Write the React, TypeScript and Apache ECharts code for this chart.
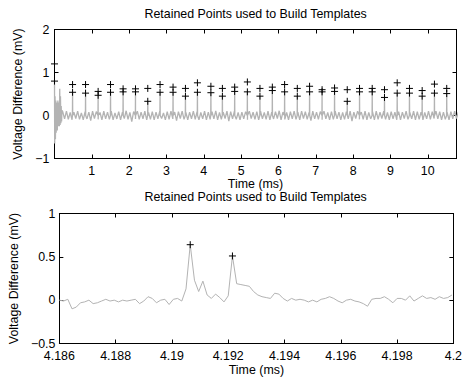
import React, { useEffect, useRef } from "react";
import * as echarts from "echarts";

const titleText = "Retained Points used to Build Templates";
const xName = "Time (ms)";
const yName = "Voltage Difference (mV)";

// ---------- top panel ----------
const topXMax = 10.77;
const topYMin = -1;
const topYMax = 2;

// initial artefact burst (ms, mV)
const burstTimes = [0, 0.005, 0.015, 0.025, 0.035, 0.045, 0.06, 0.075, 0.09, 0.1, 0.115, 0.13, 0.14, 0.15, 0.16, 0.17, 0.18, 0.19, 0.2];
const burstValues = [0.78, -0.65, 0.45, -0.55, 0.35, -0.4, 0.3, -0.35, 0.35, -0.25, 0.3, -0.25, 0.62, -0.22, 0.45, -0.18, 0.22, -0.14, 0.12];

// baseline noise, sampled from 0.22 ms every 0.05 ms (hundredths of mV)
const noiseStart = 0.22;
const noiseStep = 0.05;
const noiseCentiMv = [
  9, -8, 10, -9, 7, -10, 8, -7, 10, -9, 6, -10, 9, -8, 8, -12, 10, -7, 9, -9,
  7, -10, 10, -8, 8, -9, 10, -10, 6, -8, 9, -10, 8, -7, 11, -9, 7, -14, 9, -8,
  10, -9, 8, -8, 10, -10, 7, -9, 9, -10, 8, -8, 10, -7, 6, -10, 9, -9, 10, -8,
  8, -12, 9, -7, 10, -9, 7, -10, 8, -8, 10, -9, 9, -10, 7, -8, 10, -10, 8, -9,
  9, -8, 11, -10, 7, -9, 8, -7, 10, -13, 9, -8, 10, -9, 7, -10, 8, -8, 9, -10,
  10, -7, 8, -9, 9, -10, 10, -8, 7, -9, 10, -10, 8, -8, 9, -7, 11, -10, 8, -9,
  7, -10, 9, -8, 10, -9, 8, -10, 10, -7, 9, -9, 7, -12, 10, -8, 8, -9, 9, -10,
  10, -8, 7, -10, 9, -9, 10, -8, 8, -10, 7, -9, 9, -8, 10, -13, 8, -7, 10, -9,
  8, -9, 10, -10, 7, -8, 9, -10, 10, -9, 8, -7, 10, -9, 7, -10, 9, -8, 8, -10,
  9, -10, 8, -7, 10, -9, 7, -8, 10, -10, 9, -9, 8, -10, 7, -8, 10, -9, 9, -7,
  10, -8, 9, -10, 8, -9, 7, -10, 9, -8, 10, -7, 8, -9,
];

// retained spikes
const spikeTimes = [0.484, 0.832, 1.169, 1.501, 1.838, 2.17, 2.499, 2.828, 3.176, 3.508, 3.829, 4.19, 4.498, 4.827, 5.167, 5.504, 5.836, 6.165, 6.505, 6.834, 7.169, 7.503, 7.843, 8.172, 8.512, 8.841, 9.181, 9.51, 9.85, 10.179, 10.508];
const spikeUpper = [0.72, 0.72, 0.56, 0.72, 0.62, 0.62, 0.63, 0.72, 0.66, 0.63, 0.76, 0.68, 0.63, 0.66, 0.78, 0.63, 0.66, 0.72, 0.63, 0.68, 0.6, 0.64, 0.6, 0.63, 0.63, 0.6, 0.76, 0.63, 0.58, 0.73, 0.63];
const spikeLower = [0.54, 0.52, 0.47, 0.54, 0.55, 0.55, 0.33, 0.54, 0.54, 0.45, 0.54, 0.53, 0.45, 0.56, 0.55, 0.45, 0.58, 0.55, 0.45, 0.55, 0.55, 0.56, 0.33, 0.55, 0.55, 0.42, 0.52, 0.52, 0.45, 0.52, 0.51];
const startMarkerTime = 0;
const startMarkerValues = [1.2, 0.8];

// ---------- bottom panel ----------
const zoomStart = 4.186;
const zoomEnd = 4.2;
const zoomStep = 0.00015;
const zoomValues = [
  0.0, -0.01, 0.01, -0.1, -0.08, -0.03, -0.02, 0.0, -0.04, -0.03,
  -0.01, 0.01, -0.01, 0.0, -0.02, 0.0, -0.01, 0.0, 0.01, -0.04,
  -0.01, 0.04, 0.02, -0.03, 0.0, 0.01, -0.05, 0.01, 0.02, -0.01,
  0.13, 0.64, 0.23, 0.1, 0.22, 0.06, 0.02, 0.07, 0.03, -0.02,
  0.05, 0.51, 0.19, 0.18, 0.17, 0.16, 0.1, 0.06, 0.04, 0.03,
  0.02, 0.08, 0.07, 0.02, -0.01, 0.02, 0.0, 0.01, 0.0, -0.02,
  0.0, -0.02, 0.01, 0.02, 0.04, 0.02, -0.01, -0.03, 0.0, 0.01,
  -0.01, -0.02, -0.04, -0.07, 0.01, 0.02, 0.02, 0.04, 0.01, -0.03,
  0.02, 0.02, 0.0, 0.05, -0.01, 0.02, 0.05, 0.02, 0.03, 0.01,
  0.04, 0.02, 0.03, 0.06,
];
const zoomRetainedIdx = [31, 41];

const FONT = "'Liberation Sans', Arial, Helvetica, sans-serif";
const GRAY = "#b3b3b3";
const PLUS = "path://M0,5L10,5M5,0L5,10";
const FS = 12.4;

const minusFmt = (v: number) => String(v).replace("-", "\u2212");

export default function App() {
  const ref = useRef<HTMLDivElement>(null);

  useEffect(() => {
    if (!ref.current) return;
    const chart = echarts.init(ref.current, undefined, { renderer: "svg" });

    // top trace
    const topPoints: [number, number][] = [];
    burstTimes.forEach((t, i) => topPoints.push([t, burstValues[i]]));
    noiseCentiMv.forEach((n, i) => topPoints.push([noiseStart + i * noiseStep, n / 100]));
    spikeTimes.forEach((t, i) => {
      topPoints.push([t - 0.004, 0]);
      topPoints.push([t, spikeLower[i]]);
      topPoints.push([t + 0.004, 0]);
    });
    topPoints.sort((a, b) => a[0] - b[0]);

    const topMarkers: [number, number][] = [];
    startMarkerValues.forEach((v) => topMarkers.push([startMarkerTime, v]));
    spikeTimes.forEach((t, i) => {
      topMarkers.push([t, spikeUpper[i]]);
      topMarkers.push([t, spikeLower[i]]);
    });

    const zoomPoints: [number, number][] = zoomValues.map((v, i) => [zoomStart + i * zoomStep, v]);
    const zoomMarkers = zoomRetainedIdx.map((i) => zoomPoints[i]);

    const axisLine = { show: true, onZero: false, lineStyle: { color: "#000", width: 1 } };
    const tick = { show: true, inside: true, length: 4, lineStyle: { color: "#000", width: 1 } };
    const labelStyle = { color: "#000", fontSize: FS, fontFamily: FONT, lineHeight: 12 };
    const nameStyle = { color: "#000", fontSize: FS, fontFamily: FONT };

    const grids = [
      { left: 54.5, top: 29.5, width: 402, height: 129 },
      { left: 54.5, top: 213.5, width: 402, height: 130 },
    ];

    const titleBase = {
      text: titleText,
      left: 255.6,
      textAlign: "center",
      padding: 0,
      textStyle: { fontSize: FS, fontWeight: "normal", color: "#000", fontFamily: FONT },
    };

    chart.setOption({
      animation: false,
      backgroundColor: "#fff",
      title: [
        { ...titleBase, top: 8 },
        { ...titleBase, top: 191 },
      ],
      grid: grids,
      xAxis: [
        {
          gridIndex: 0, type: "value", position: "bottom", min: 0, max: topXMax, interval: 1,
          axisLine, axisTick: tick, splitLine: { show: false },
          axisLabel: {
            ...labelStyle, margin: 6,
            formatter: (v: number) => (v > 0 && Number.isInteger(v) ? String(v) : ""),
          },
          name: xName, nameLocation: "middle", nameGap: 19, nameTextStyle: nameStyle,
        },
        {
          gridIndex: 0, type: "value", position: "top", min: 0, max: topXMax, interval: 1,
          axisLine, axisTick: tick, splitLine: { show: false }, axisLabel: { show: false },
        },
        {
          gridIndex: 1, type: "value", position: "bottom", min: zoomStart, max: zoomEnd, interval: 0.002,
          axisLine, axisTick: tick, splitLine: { show: false },
          axisLabel: { ...labelStyle, margin: 6, formatter: (v: number) => String(+(+v).toFixed(4)) },
          name: xName, nameLocation: "middle", nameGap: 20, nameTextStyle: nameStyle,
        },
        {
          gridIndex: 1, type: "value", position: "top", min: zoomStart, max: zoomEnd, interval: 0.002,
          axisLine, axisTick: tick, splitLine: { show: false }, axisLabel: { show: false },
        },
      ],
      yAxis: [
        {
          gridIndex: 0, type: "value", position: "left", min: topYMin, max: topYMax, interval: 1,
          axisLine, axisTick: tick, splitLine: { show: false },
          axisLabel: { ...labelStyle, margin: 5, formatter: minusFmt },
          name: yName, nameLocation: "middle", nameGap: 24, nameTextStyle: nameStyle,
        },
        {
          gridIndex: 0, type: "value", position: "right", min: topYMin, max: topYMax, interval: 1,
          axisLine, axisTick: tick, splitLine: { show: false }, axisLabel: { show: false },
        },
        {
          gridIndex: 1, type: "value", position: "left", min: -0.5, max: 1, interval: 0.5,
          axisLine, axisTick: tick, splitLine: { show: false },
          axisLabel: { ...labelStyle, margin: 4, formatter: minusFmt },
          name: yName, nameLocation: "middle", nameGap: 24, nameTextStyle: nameStyle,
        },
        {
          gridIndex: 1, type: "value", position: "right", min: -0.5, max: 1, interval: 0.5,
          axisLine, axisTick: tick, splitLine: { show: false }, axisLabel: { show: false },
        },
      ],
      series: [
        {
          type: "line", xAxisIndex: 0, yAxisIndex: 0, data: topPoints, showSymbol: false,
          lineStyle: { color: GRAY, width: 1.3 }, itemStyle: { color: GRAY }, z: 1, silent: true,
        },
        {
          type: "scatter", xAxisIndex: 0, yAxisIndex: 0, data: topMarkers, symbol: PLUS, symbolSize: 7,
          itemStyle: { color: "transparent", borderColor: "#000", borderWidth: 1, opacity: 1 }, z: 3, silent: true,
        },
        {
          type: "line", xAxisIndex: 2, yAxisIndex: 2, data: zoomPoints, showSymbol: false,
          lineStyle: { color: GRAY, width: 1 }, itemStyle: { color: GRAY }, z: 1, silent: true,
        },
        {
          type: "scatter", xAxisIndex: 2, yAxisIndex: 2, data: zoomMarkers, symbol: PLUS, symbolSize: 7,
          itemStyle: { color: "transparent", borderColor: "#000", borderWidth: 1, opacity: 1 }, z: 3, silent: true,
        },
      ],
    });

    return () => chart.dispose();
  }, []);

  return (
    <div
      ref={ref}
      style={{ position: "fixed", left: 0, top: 0, width: 465, height: 377, background: "#fff" }}
    />
  );
}
